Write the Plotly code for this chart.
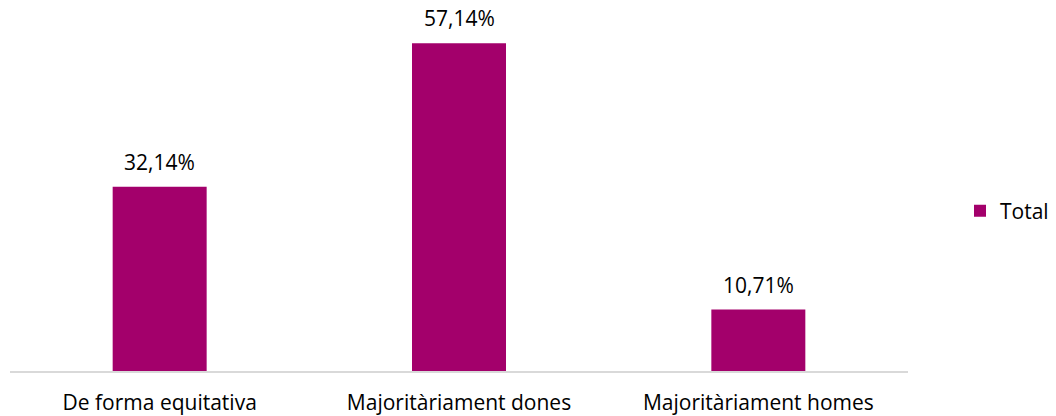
import plotly.graph_objects as go

categories = ["De forma equitativa", "Majoritàriament dones", "Majoritàriament homes"]
values = [32.14, 57.14, 10.71]
labels = [f"{v:.2f}".replace(".", ",") + "%" for v in values]

color = "#A3006B"
font = "Open Sans, sans-serif"
fsize = 21

fig = go.Figure()
fig.add_trace(go.Bar(
    x=categories, y=values, name="Total",
    marker=dict(color=color, line=dict(width=0)),
    width=0.314,
))
for c, v, t in zip(categories, values, labels):
    fig.add_annotation(x=c, y=v, text=t, showarrow=False, yanchor="bottom",
                       yshift=9, font=dict(size=fsize, family=font, color="#000000"))
fig.update_layout(
    width=1056, height=416,
    margin=dict(l=10, r=148, t=4, b=45, autoexpand=False),
    paper_bgcolor="white", plot_bgcolor="white",
    font=dict(family=font, size=fsize, color="#000000"),
    showlegend=True,
    legend=dict(xref="container", yref="container", x=960 / 1056, xanchor="left",
                y=1 - 211 / 416, yanchor="middle",
                font=dict(size=fsize, family=font), itemwidth=30,
                bgcolor="rgba(0,0,0,0)"),
    bargap=0.686,
)
fig.update_xaxes(showline=True, linecolor="#D9D9D9", linewidth=2,
                 ticks="", showgrid=False, ticklabelstandoff=12,
                 tickfont=dict(size=fsize, family=font))
fig.update_yaxes(range=[0, 64], visible=False, showgrid=False, zeroline=False)
fig.write_html("out.html")
